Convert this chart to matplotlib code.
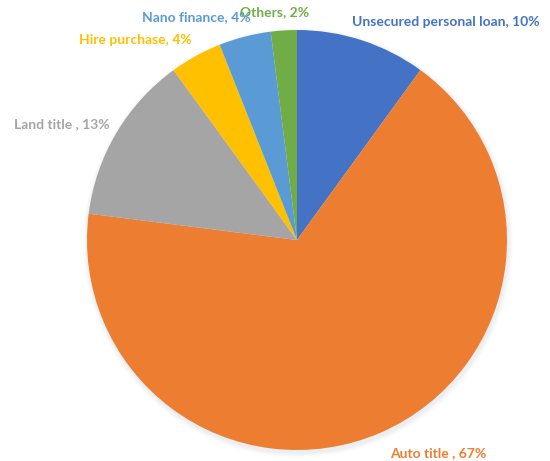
import matplotlib
matplotlib.use("Agg")
import matplotlib.pyplot as plt
from matplotlib.patches import Circle

categories = ["Unsecured personal loan", "Auto title ", "Land title ", "Hire purchase", "Nano finance", "Others"]
values = [10, 67, 13, 4, 4, 2]
colors = ["#4472C4", "#ED7D31", "#A5A5A5", "#FFC000", "#5B9BD5", "#70AD47"]

# label left-edge anchor positions in pixels (converted to pie units)
label_px = [(352, 22), (390, 453), (14, 124), (79, 40), (142, 17), (240, 12)]

W, H = 550, 461
cx, cy, R = 297, 240, 210

fig = plt.figure(figsize=(W / 100, H / 100), dpi=100)
ax = fig.add_axes([0, 0, 1, 1])

# soft shadow
for i, a in enumerate([0.05, 0.04, 0.03, 0.02]):
    ax.add_patch(Circle((0.005, -0.012), 1.0 + 0.006 * (i + 1), color="#7f8f9f", alpha=a, zorder=0, lw=0))

ax.pie(values, colors=colors, startangle=90, counterclock=False, radius=1.0,
       wedgeprops=dict(linewidth=0), center=(0, 0), frame=True)
ax.set_xlim(-cx / R, (W - cx) / R)
ax.set_ylim((cy - H) / R, cy / R)
ax.set_aspect("equal")
ax.axis("off")

for cat, v, c, (px, py) in zip(categories, values, colors, label_px):
    ax.text((px - cx) / R, (cy - py) / R, f"{cat}, {v}%", color=c, fontsize=10,
            fontweight="bold", family="Lato", ha="left", va="center")

fig.savefig("out.png", dpi=100)
